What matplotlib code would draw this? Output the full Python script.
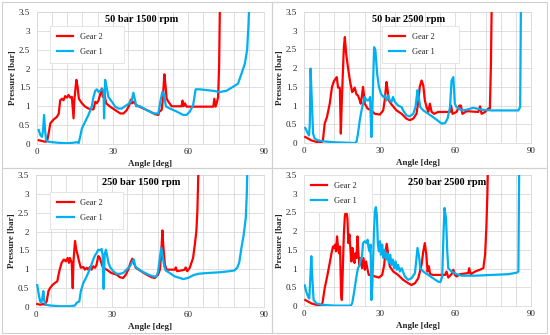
import matplotlib
matplotlib.use('Agg')
import matplotlib.pyplot as plt
from matplotlib.patches import Rectangle
import numpy as np

# ============================================================
# Daten (aus Bild abgelesen) - Winkel [deg], Druck [bar]
# ============================================================
TITLES = ['50 bar 1500 rpm', '50 bar 2500 rpm', '250 bar 1500 rpm', '250 bar 2500 rpm']
X_TICKS = [0, 30, 60, 90]
Y_TICKS = [0, 0.5, 1, 1.5, 2, 2.5, 3, 3.5]
Y_TICK_LABELS = ['0', '0.5', '1', '1.5', '2', '2.5', '3', '3.5']

# --- 50 bar 1500 rpm ---
g2_a_x = [0.7, 3.3, 4.0, 4.6, 5.3, 6.6, 7.9, 8.6, 9.2, 9.9, 10.5, 11.2, 11.9, 12.5, 13.2, 13.8,
          14.5, 14.8, 15.6, 16.1, 16.6, 17.8, 19.1, 20.4, 21.7, 22.4, 23.1, 23.7, 24.4, 25.0, 25.7,
          26.1, 26.6, 27.4, 29.0, 31.0, 33.0, 34.3, 35.6, 36.6, 37.2, 37.7, 38.2, 39.5, 42.2, 44.8,
          46.8, 48.1, 48.5, 49.4, 49.8, 50.5, 51.0, 51.4, 52.1, 53.4, 57.3, 57.7, 58.1, 58.6, 59.3,
          69.9, 70.3, 70.8, 71.4, 71.8, 72.2, 72.5]
g2_a_y = [0.10, 0.06, 0.07, 0.28, 0.55, 0.65, 0.72, 0.80, 1.16, 1.20, 1.16, 1.27, 1.23, 1.30, 1.23, 1.25,
          0.68, 1.16, 1.70, 1.52, 1.20, 1.08, 0.99, 0.94, 0.92, 0.92, 1.12, 1.08, 1.16, 1.30, 1.47,
          1.25, 1.38, 1.08, 0.99, 0.90, 0.81, 0.81, 0.90, 1.03, 1.18, 1.08, 1.12, 1.03, 0.94, 0.86,
          0.79, 0.77, 0.86, 0.90, 1.12, 1.85, 1.52, 1.20, 1.12, 1.00, 1.00, 1.15, 1.00, 1.08, 0.99,
          0.99, 1.20, 0.99, 1.12, 1.25, 2.05, 3.60]
g1_a_x = [0.7, 1.3, 2.0, 2.4, 2.8, 3.2, 3.6, 4.6, 7.9, 11.9, 14.5, 16.1, 16.5, 17.1, 17.8, 19.1,
          20.4, 21.7, 22.4, 23.1, 23.7, 24.4, 25.0, 25.7, 26.4, 26.6, 27.0, 27.7, 28.3, 29.7, 31.0,
          32.3, 33.6, 34.9, 36.2, 37.6, 38.2, 38.9, 39.3, 40.9, 43.5, 46.1, 48.1, 49.0, 49.7, 50.3,
          50.7, 51.1, 52.7, 55.4, 58.0, 59.3, 60.6, 61.9, 62.9, 64.6, 69.9, 72.5, 75.1, 77.8, 79.7,
          81.1, 82.4, 83.3, 83.8, 84.1]
g1_a_y = [0.37, 0.24, 0.19, 0.37, 0.77, 0.37, 0.10, 0.06, 0.035, 0.02, 0.035, 0.05, 0.02, 0.19, 0.41, 0.59,
          0.77, 0.99, 1.25, 1.41, 1.45, 1.38, 1.41, 1.45, 1.43, 0.68, 1.70, 1.47, 1.25, 1.12, 0.99,
          0.94, 0.94, 1.00, 1.06, 1.16, 1.36, 1.16, 1.00, 1.00, 0.90, 0.81, 0.81, 1.16, 1.38, 1.34,
          1.16, 1.00, 0.94, 0.86, 0.77, 0.77, 0.86, 1.03, 1.45, 1.45, 1.41, 1.38, 1.41, 1.52, 1.60,
          1.87, 2.13, 2.49, 3.10, 3.60]

# --- 50 bar 2500 rpm ---
g2_b_x = [0.5, 1.6, 2.9, 4.9, 6.9, 7.5, 8.2, 9.1, 10.2, 11.1, 11.9, 12.6, 13.0, 13.5, 14.2, 14.6,
          15.0, 15.8, 16.2, 16.7, 17.5, 18.3, 19.1, 19.7, 20.1, 20.8, 21.4, 22.1, 22.5, 23.0, 23.4,
          23.8, 24.1, 25.2, 26.7, 28.1, 30.1, 31.4, 32.0, 32.7, 33.1, 33.6, 34.7, 36.7, 38.7, 40.6,
          41.9, 43.3, 44.6, 45.3, 45.9, 46.6, 47.3, 47.9, 48.6, 49.3, 49.9, 50.6, 51.6, 53.2, 57.9,
          58.3, 58.9, 60.5, 61.6, 62.2, 62.8, 64.5, 69.1, 69.8, 70.4, 71.8, 73.1, 73.7, 74.1, 74.4]
g2_b_y = [0.16, 0.12, 0.07, 0.03, 0.01, 0.07, 0.52, 0.69, 1.05, 1.50, 1.66, 1.72, 1.76, 1.48, 1.48, 0.25,
          1.14, 2.56, 2.83, 2.39, 1.99, 1.63, 1.36, 1.42, 1.48, 1.30, 1.27, 1.14, 1.05, 1.27, 1.50,
          1.27, 1.05, 0.92, 0.87, 0.78, 0.76, 0.87, 1.14, 1.63, 1.45, 1.14, 1.03, 0.87, 0.78, 0.65,
          0.61, 0.65, 0.78, 1.10, 1.50, 1.67, 1.54, 1.14, 0.96, 0.83, 1.05, 0.83, 0.78, 0.83, 0.83,
          1.00, 0.78, 0.83, 1.00, 1.00, 0.78, 0.85, 0.83, 0.98, 0.78, 0.83, 0.92, 0.92, 2.05, 3.60]
g1_b_x = [0.5, 1.3, 2.0, 2.3, 2.6, 3.2, 3.6, 4.2, 5.6, 8.2, 12.2, 20.1, 20.8, 21.4, 22.1, 22.8,
          23.4, 24.1, 24.8, 25.7, 26.2, 26.7, 27.1, 27.8, 28.3, 29.0, 29.7, 30.5, 31.4, 32.0, 32.7,
          33.4, 34.0, 34.7, 35.3, 36.0, 37.3, 38.7, 39.3, 40.6, 41.9, 43.3, 44.2, 45.0, 45.5, 46.1,
          47.3, 49.3, 51.2, 53.2, 54.5, 55.9, 56.9, 57.9, 58.5, 59.2, 59.8, 60.5, 62.5, 64.5, 67.1,
          70.4, 74.4, 85.0, 85.7, 86.0]
g1_b_y = [0.40, 0.29, 0.20, 0.50, 1.99, 0.96, 0.25, 0.12, 0.07, 0.04, 0.02, 0.00, 0.03, 0.25, 0.60, 0.87,
          1.05, 1.23, 1.14, 1.14, 1.23, 0.16, 0.87, 2.56, 2.48, 1.85, 1.50, 1.32, 1.23, 1.27, 1.14,
          1.27, 1.14, 1.10, 1.23, 1.10, 1.00, 0.96, 0.87, 0.74, 0.71, 0.78, 0.96, 1.41, 1.23, 0.96,
          0.87, 0.78, 0.69, 0.59, 0.52, 0.53, 0.65, 0.96, 1.67, 1.76, 1.05, 0.96, 0.87, 0.89, 0.94,
          0.89, 0.87, 0.87, 0.96, 3.60]

# --- 250 bar 1500 rpm ---
g2_c_x = [0.5, 1.6, 2.9, 3.5, 4.2, 4.9, 5.5, 6.6, 7.5, 8.4, 9.2, 10.1, 11.0, 11.8, 12.5, 13.0,
          13.4, 14.1, 14.5, 14.8, 15.4, 15.9, 16.4, 17.0, 17.7, 18.7, 19.3, 20.0, 20.6, 21.3, 21.9,
          22.6, 23.3, 23.9, 24.6, 25.2, 25.6, 26.0, 26.5, 27.9, 29.8, 31.8, 33.1, 34.4, 35.5, 36.4,
          37.3, 38.0, 38.6, 39.4, 41.0, 43.6, 45.6, 46.9, 48.2, 48.9, 49.4, 49.9, 50.3, 50.9, 51.5,
          52.8, 54.8, 55.2, 55.7, 57.4, 58.7, 59.1, 59.7, 60.7, 62.0, 62.7, 63.3, 63.7, 64.1]
g2_c_y = [0.08, 0.06, 0.08, 0.06, 0.15, 0.42, 0.50, 0.59, 0.64, 0.68, 0.95, 1.17, 1.26, 1.21, 1.30, 1.17,
          1.30, 1.17, 0.50, 1.21, 1.75, 1.52, 1.39, 1.21, 1.04, 1.06, 0.99, 1.04, 0.99, 1.06, 0.99,
          1.08, 1.04, 1.12, 1.35, 1.30, 1.21, 1.12, 1.04, 0.99, 0.90, 0.86, 0.79, 0.77, 0.86, 0.99,
          1.17, 1.28, 1.17, 1.04, 0.97, 0.86, 0.79, 0.77, 0.86, 0.99, 1.39, 2.03, 1.57, 1.12, 0.99,
          0.99, 0.99, 1.05, 0.95, 0.97, 0.99, 1.05, 0.95, 1.04, 1.30, 1.66, 2.01, 2.54, 3.60]
g1_c_x = [0.5, 1.1, 1.6, 2.1, 2.5, 2.9, 3.3, 3.9, 5.5, 9.5, 13.4, 15.4, 16.0, 17.1, 17.7, 18.7,
          19.7, 20.6, 21.5, 22.3, 23.3, 23.9, 24.6, 25.2, 25.9, 26.3, 26.7, 27.1, 27.6, 28.1, 28.6,
          29.4, 30.5, 31.8, 33.1, 34.4, 35.7, 37.1, 37.8, 38.6, 39.2, 39.7, 41.7, 44.3, 46.3, 47.6,
          48.2, 48.9, 49.4, 49.9, 50.6, 51.2, 52.8, 54.8, 56.8, 58.1, 60.0, 62.0, 64.0, 67.3, 72.5,
          76.5, 78.4, 79.4, 80.2, 81.1, 82.0, 82.8, 83.2, 83.4]
g1_c_y = [0.58, 0.33, 0.15, 0.11, 0.24, 0.42, 0.15, 0.06, 0.04, 0.02, 0.02, 0.04, 0.11, 0.15, 0.42, 0.64,
          0.77, 0.90, 1.04, 1.21, 1.37, 1.43, 1.52, 1.50, 1.54, 1.39, 0.48, 1.39, 1.52, 1.35, 1.17,
          1.04, 0.95, 0.88, 0.88, 0.90, 0.99, 1.08, 1.17, 1.26, 1.08, 1.04, 0.95, 0.86, 0.81, 0.81,
          0.95, 1.30, 1.57, 1.39, 1.08, 0.97, 0.90, 0.81, 0.77, 0.74, 0.77, 0.84, 0.88, 0.90, 0.92,
          0.95, 0.97, 1.04, 1.17, 1.57, 1.92, 2.36, 2.98, 3.60]

# --- 250 bar 2500 rpm ---
g2_d_x = [0.5, 1.6, 2.9, 4.9, 6.6, 7.3, 8.2, 9.3, 10.2, 10.9, 11.5, 11.9, 12.3, 12.7, 13.1, 13.5,
          13.9, 14.3, 14.7, 15.0, 15.4, 15.8, 16.2, 16.7, 17.2, 17.6, 18.0, 18.4, 18.8, 19.2, 19.6,
          20.0, 20.4, 20.8, 21.2, 21.6, 22.0, 22.5, 23.0, 23.6, 24.1, 24.6, 25.2, 25.7, 26.7, 28.1,
          29.7, 31.0, 31.8, 32.3, 32.8, 33.4, 34.0, 35.4, 37.3, 39.3, 41.3, 42.6, 44.0, 45.3, 46.6,
          47.3, 47.9, 48.5, 49.0, 49.5, 50.0, 51.2, 54.5, 55.9, 56.5, 57.2, 58.5, 59.2, 59.8, 60.5,
          61.8, 65.1, 65.5, 66.1, 67.8, 69.8, 71.1, 71.8, 72.3, 72.7, 72.9]
g2_d_y = [0.16, 0.12, 0.07, 0.03, 0.01, 0.07, 0.47, 0.83, 1.15, 1.41, 1.59, 1.55, 1.64, 1.46, 1.86, 1.55,
          1.41, 1.59, 0.30, 0.16, 1.01, 1.91, 2.40, 2.58, 2.35, 1.68, 1.91, 1.55, 1.19, 1.55, 1.28,
          1.15, 1.41, 1.28, 1.86, 1.37, 1.10, 1.28, 1.01, 1.28, 0.97, 1.19, 0.97, 0.83, 0.83, 0.79,
          0.76, 0.83, 1.10, 1.46, 1.66, 1.37, 1.06, 0.92, 0.83, 0.70, 0.61, 0.56, 0.61, 0.74, 1.10,
          1.46, 1.68, 1.37, 0.92, 1.06, 0.85, 0.83, 0.83, 0.83, 0.92, 0.76, 0.85, 0.97, 0.83, 0.79,
          0.85, 0.88, 1.01, 0.85, 0.92, 0.97, 1.01, 1.37, 2.09, 2.98, 3.60]
g1_d_x = [0.3, 0.9, 1.6, 2.1, 2.5, 2.9, 3.3, 3.8, 4.9, 7.5, 12.2, 18.5, 19.1, 19.9, 20.8, 21.4,
          22.1, 22.5, 23.0, 23.4, 24.1, 24.8, 25.2, 25.6, 26.0, 26.4, 26.7, 27.1, 27.7, 28.1, 28.5,
          28.9, 29.3, 29.7, 30.1, 30.5, 31.0, 31.5, 32.0, 32.6, 33.1, 33.6, 34.2, 34.7, 35.2, 35.7,
          36.3, 36.8, 37.3, 38.0, 38.7, 40.0, 41.3, 42.6, 44.0, 44.6, 45.0, 45.6, 46.1, 47.3, 49.3,
          51.2, 53.2, 54.1, 54.8, 55.3, 55.7, 56.3, 56.8, 57.2, 58.5, 60.5, 62.5, 67.8, 74.4, 81.0,
          84.3, 85.0, 85.3]
g1_d_y = [0.55, 0.38, 0.25, 0.20, 0.74, 1.33, 0.74, 0.16, 0.07, 0.03, 0.01, 0.01, 0.07, 0.38, 0.79, 1.01,
          1.10, 1.24, 1.33, 1.68, 1.73, 1.68, 1.77, 1.55, 1.46, 1.64, 0.16, 0.56, 1.91, 2.53, 2.64,
          2.40, 1.64, 1.46, 1.73, 1.37, 1.64, 1.28, 1.50, 1.24, 1.41, 1.15, 1.37, 1.10, 1.24, 1.01,
          1.19, 0.97, 1.10, 0.92, 1.01, 0.79, 0.70, 0.74, 0.88, 1.28, 1.55, 1.33, 1.01, 0.92, 0.83,
          0.74, 0.65, 0.64, 0.79, 1.91, 2.62, 2.35, 1.46, 1.01, 0.92, 0.85, 0.81, 0.81, 0.83, 0.85,
          0.89, 0.92, 3.60]

GEAR2 = [(g2_a_x, g2_a_y), (g2_b_x, g2_b_y), (g2_c_x, g2_c_y), (g2_d_x, g2_d_y)]
GEAR1 = [(g1_a_x, g1_a_y), (g1_b_x, g1_b_y), (g1_c_x, g1_c_y), (g1_d_x, g1_d_y)]

# ============================================================
# Stil / Layout
# ============================================================
C_RED = '#FF0000'
C_BLUE = '#00B0F0'
C_GRID = '#D9D9D9'
C_TXT = '#262626'
FONT = ['Liberation Serif', 'DejaVu Serif']

plt.rcParams['font.family'] = FONT

W, H = 550, 335
# Achsen in Pixel: links, oben, rechts, unten
AX_PX = [(37, 12, 264, 144), (304, 12, 531, 143), (36, 175, 264, 307), (304, 175, 531, 306)]
BORDER_PX = [(2, 2, 272, 168), (272, 2, 547, 168), (2, 168, 272, 333), (272, 168, 547, 333)]
TITLE_POS = [(0.46, 0.975), (0.46, 0.975), (0.46, 0.975), (0.63, 0.975)]
LEG_BOX = [(0.058, 0.614, 0.325, 0.28), (0.344, 0.61, 0.34, 0.283),
           (0.063, 0.598, 0.32, 0.273), (0.0, 0.733, 0.30, 0.267)]

fig = plt.figure(figsize=(W / 100, H / 100), dpi=100)
fig.patch.set_facecolor('white')

for (x0, y0, x1, y1) in BORDER_PX:
    fig.patches.append(Rectangle((x0 / W, 1 - y1 / H), (x1 - x0) / W, (y1 - y0) / H,
                                 transform=fig.transFigure, fill=False,
                                 edgecolor='#D0D0D0', lw=0.8))

for i in range(4):
    l, t, r, b = AX_PX[i]
    ax = fig.add_axes([l / W, 1 - b / H, (r - l) / W, (b - t) / H])
    gx, gy = GEAR2[i]
    bx, by = GEAR1[i]
    ax.plot(gx, gy, color=C_RED, lw=1.6, label='Gear 2', zorder=3)
    ax.plot(bx, by, color=C_BLUE, lw=1.6, label='Gear 1', zorder=3)

    ax.set_xlim(0, 90)
    ax.set_ylim(0, 3.5)
    ax.set_xticks(X_TICKS)
    ax.set_xticks(np.arange(0, 91, 6), minor=True)
    ax.set_yticks(Y_TICKS)
    ax.set_yticklabels(Y_TICK_LABELS)
    ax.grid(True, which='both', axis='x', color=C_GRID, lw=0.6)
    ax.grid(True, which='major', axis='y', color=C_GRID, lw=0.6)
    ax.set_axisbelow(True)
    ax.tick_params(which='both', length=0, labelsize=6.5, colors=C_TXT)
    ax.tick_params(axis='x', pad=3)
    ax.tick_params(axis='y', pad=5)
    for s in ax.spines.values():
        s.set_color(C_GRID)
        s.set_linewidth(0.6)

    ax.set_xlabel('Angle [deg]', fontsize=6.5, fontweight='bold', color=C_TXT, labelpad=3)
    ax.set_ylabel('Pressure [bar]', fontsize=6.5, fontweight='bold', color=C_TXT, labelpad=1.5)
    tx, ty = TITLE_POS[i]
    ax.text(tx, ty, TITLES[i], transform=ax.transAxes, ha='center', va='top',
            fontsize=7.5, fontweight='bold', color='black')

    leg = ax.legend(loc='upper left', bbox_to_anchor=LEG_BOX[i], mode='expand',
                    fontsize=6, frameon=True, fancybox=False, framealpha=1,
                    edgecolor='#E0E0E0', handlelength=2.0, handletextpad=0.8,
                    labelspacing=0.9, borderpad=0.8, borderaxespad=0)
    leg.get_frame().set_linewidth(0.6)
    for t in leg.get_texts():
        t.set_color(C_TXT)

fig.savefig('out.png', dpi=100, facecolor='white')
